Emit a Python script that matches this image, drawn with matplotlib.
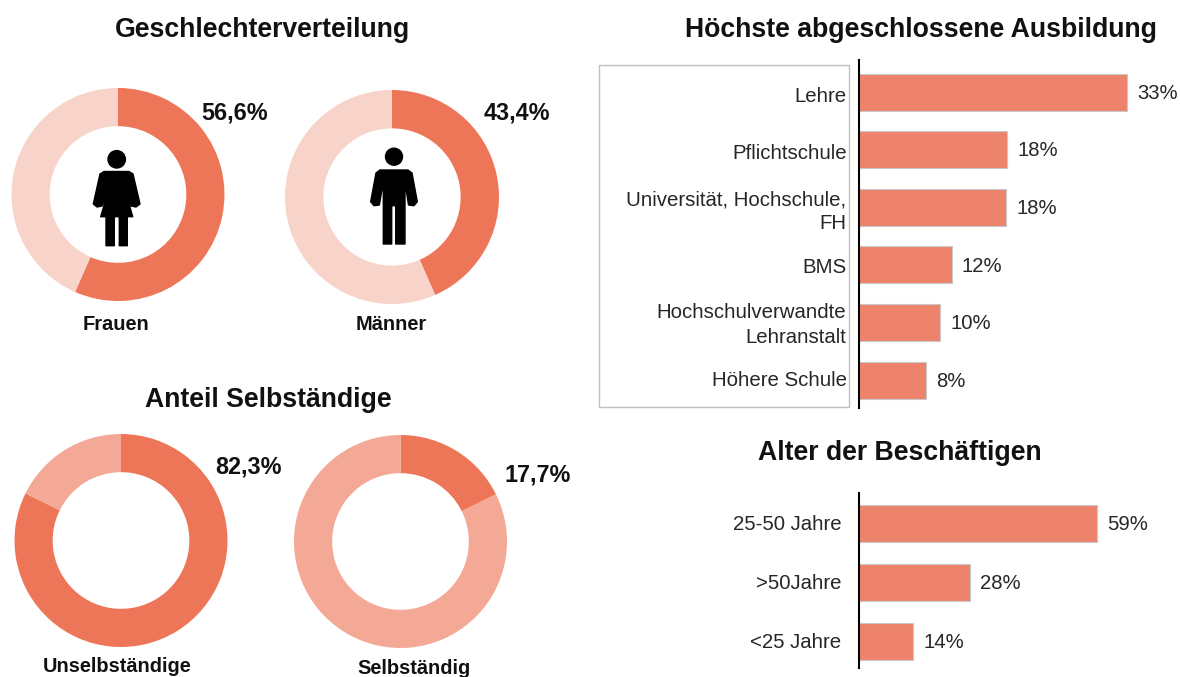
import matplotlib
matplotlib.use('Agg')
import matplotlib.pyplot as plt
from matplotlib.patches import Circle, Polygon, Rectangle
from matplotlib.transforms import ScaledTranslation

plt.rcParams['font.family'] = ['Liberation Sans', 'DejaVu Sans']

W, H = 1180, 677

# Donut data
gender_names = ['Frauen', 'Männer']
gender_values = [56.6, 43.4]
gender_labels = ['56,6%', '43,4%']
job_names = ['Unselbständige', 'Selbständig']
job_values = [82.3, 17.7]
job_labels = ['82,3%', '17,7%']

# Bar data
edu_names = ['Lehre', 'Pflichtschule', 'Universität, Hochschule,\nFH', 'BMS',
             'Hochschulverwandte\nLehranstalt', 'Höhere Schule']
edu_values = [33, 18.2, 18.1, 11.4, 10, 8.2]
edu_labels = ['33%', '18%', '18%', '12%', '10%', '8%']
age_names = ['25-50 Jahre', '>50Jahre', '<25 Jahre']
age_values = [59, 27.5, 13.5]
age_labels = ['59%', '28%', '14%']

dark = '#EE7658'
light_gender = '#F8D3C9'
light_job = '#F4A996'
bar_color = '#EE836B'
text_color = '#262626'

fig = plt.figure(figsize=(W / 100, H / 100), dpi=100)

# overlay in pixel coordinates for titles, box and icons
bg = fig.add_axes([0, 0, 1, 1], zorder=0)
bg.set_xlim(0, W)
bg.set_ylim(H, 0)
bg.axis('off')
top = fig.add_axes([0, 0, 1, 1], zorder=5)
top.set_xlim(0, W)
top.set_ylim(H, 0)
top.axis('off')
top.patch.set_alpha(0)


def donut(cx, cy, r, value, light):
    ax = fig.add_axes([(cx - r) / W, 1 - (cy + r) / H, 2 * r / W, 2 * r / H], zorder=2)
    ax.pie([value, 100 - value], colors=[dark, light], startangle=90, counterclock=False,
           radius=1, wedgeprops={'width': 1 - 68 / 106})
    ax.set_xlim(-1, 1)
    ax.set_ylim(-1, 1)


def bars(left, right, y0, y1, names, values, labels, xmax, first, gap, bar_h, shifts, pad):
    ax = fig.add_axes([left / W, 1 - y1 / H, (right - left) / W, (y1 - y0) / H], zorder=2)
    pos = list(range(len(values)))
    ax.barh(pos, values, height=bar_h / gap, color=bar_color, edgecolor='#C8C8C8', linewidth=0.8)
    for p, v, lab in zip(pos, values, labels):
        ax.annotate(lab, (v, p), xytext=(7.5, -1), textcoords='offset points', va='center',
                    fontsize=14.6, color=text_color)
    ax.set_xlim(0, xmax)
    ax.set_ylim((y1 - first) / gap, (y0 - first) / gap)
    ax.set_yticks(pos)
    ax.set_yticklabels(names, fontsize=14.7, color=text_color, linespacing=1.35)
    ax.tick_params(axis='y', length=0, pad=pad)
    ax.set_xticks([])
    # move the labels by hand, they are not quite centred on the bars
    for lab, s in zip(ax.get_yticklabels(), shifts):
        lab.set_transform(lab.get_transform() + ScaledTranslation(0, -s / 100, fig.dpi_scale_trans))
    for s in ['top', 'right', 'bottom']:
        ax.spines[s].set_visible(False)
    ax.spines['left'].set_linewidth(1.5)
    ax.spines['left'].set_color('black')
    ax.patch.set_alpha(0)


# Box around the education labels
bg.add_patch(Rectangle((599, 65), 250, 342, facecolor='white', edgecolor='#BFBFBF', linewidth=1))

# Donuts
donut(118, 194.5, 106.5, gender_values[0], light_gender)
donut(392, 197, 107, gender_values[1], light_gender)
donut(121, 540.5, 106.5, job_values[0], light_job)
donut(400.5, 541.5, 106.5, job_values[1], light_job)

# Bars
bars(859, 1175, 60, 408, edu_names, edu_values, edu_labels, 316 / 8.12, 92, 57.6, 37,
     [3, 2, 0, 1, -2, -2], 9)
bars(859, 1175, 493, 668, age_names, age_values, age_labels, 316 / 4.03, 523.5, 59, 37.5,
     [-1, -1, -1], 12.6)

# Titles
for txt, x, y in [('Geschlechterverteilung', 263, 30),
                  ('Höchste abgeschlossene Ausbildung', 921, 30),
                  ('Anteil Selbständige', 268, 400),
                  ('Alter der Beschäftigen', 900, 453)]:
    top.text(x, y, txt, ha='center', va='center', fontsize=19.2, fontweight='bold', color='#111111')

# Donut captions
for lab, x, y in zip(gender_labels + job_labels, [235, 517, 248, 538], [113, 113, 467, 475]):
    top.text(x, y, lab, ha='center', va='center', fontsize=16.8, fontweight='bold', color='#111111')
for name, x, y in zip(gender_names + job_names, [116, 391, 117, 414], [324, 324, 666, 668]):
    top.text(x, y, name, ha='center', va='center', fontsize=14.4, fontweight='bold', color='#111111')

# Woman icon
top.add_patch(Circle((116.7, 159.3), 8.7, color='black'))
woman = [(104, 171.5), (129, 171.5), (133, 174), (140, 204), (136, 207), (131, 206), (124.5, 188),
         (132.7, 216.7), (127.3, 216.7), (127.3, 245.7), (119.3, 245.7), (119.3, 216.7), (114.3, 216.7),
         (114.3, 245.7), (106, 245.7), (106, 216.7), (100.7, 216.7), (109, 188), (102, 206), (97, 207),
         (93.3, 204), (100, 174)]
top.add_patch(Polygon(woman, closed=True, facecolor='black', edgecolor='black', linewidth=1, joinstyle='round'))

# Man icon
top.add_patch(Circle((394, 156.7), 8.5, color='black'))
man = [(380, 170), (408, 170), (412, 173), (417.3, 201.7), (414, 205.7), (408.5, 205), (405, 182), (405, 244),
       (395.7, 244), (395.7, 205.7), (391.7, 205.7), (391.7, 244), (383.3, 244), (383.3, 182), (379.3, 205),
       (374, 205.7), (370.7, 201.7), (376, 173)]
top.add_patch(Polygon(man, closed=True, facecolor='black', edgecolor='black', linewidth=1, joinstyle='round'))

fig.savefig('out.png', dpi=100)
